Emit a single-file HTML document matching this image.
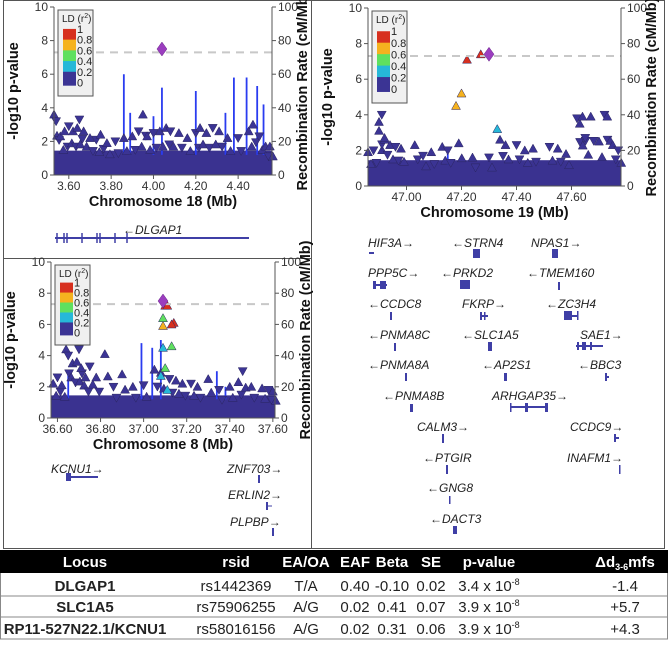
<!DOCTYPE html>
<html><head><meta charset="utf-8">
<style>
body{margin:0;background:#fff;}
svg text{font-family:"Liberation Sans",sans-serif;}
.g{font-style:italic;font-size:12px;fill:#222;}
</style></head>
<body>
<svg id="fig" width="668" height="643" viewBox="0 0 668 643" xmlns="http://www.w3.org/2000/svg">
<rect x="0" y="0" width="668" height="643" fill="#fff"/>
<g fill="none" stroke="#555" stroke-width="1">
<rect x="3.5" y="0.5" width="308" height="258"/>
<rect x="3.5" y="258.5" width="308" height="290"/>
<rect x="311.5" y="0.5" width="353" height="548"/>
</g>
<g id="plots"></g>
<g>
<text class="g" x="123" y="234">←DLGAP1</text>
<line x1="55" y1="238" x2="249" y2="238" stroke="#3f3fa6" stroke-width="2"/>
<g stroke="#3f3fa6" stroke-width="1.5"><line x1="57" y1="233" x2="57" y2="243"/><line x1="64" y1="233" x2="64" y2="243"/><line x1="67" y1="233" x2="67" y2="243"/><line x1="82" y1="233" x2="82" y2="243"/><line x1="97" y1="233" x2="97" y2="243"/><line x1="100" y1="233" x2="100" y2="243"/><line x1="115" y1="233" x2="115" y2="243"/><line x1="127" y1="233" x2="127" y2="243"/></g>
</g>
<g>
<text class="g" x="51" y="473">KCNU1→</text>
<line x1="66" y1="477" x2="98" y2="477" stroke="#3f3fa6" stroke-width="2"/>
<rect x="66" y="473" width="5" height="8" fill="#3f3fa6"/>
<text class="g" x="227" y="473">ZNF703→</text><rect x="258" y="475" width="2" height="8" fill="#3f3fa6"/>
<text class="g" x="228" y="499">ERLIN2→</text><rect x="266" y="502" width="2" height="8" fill="#3f3fa6"/><line x1="266" y1="506" x2="272" y2="506" stroke="#3f3fa6"/>
<text class="g" x="230" y="526">PLPBP→</text><rect x="272" y="528" width="2" height="8" fill="#3f3fa6"/>
</g>
<g fill="#3f3fa6">
<text class="g" x="368" y="247">HIF3A→</text><rect x="369" y="252" width="5" height="2"/>
<text class="g" x="452" y="247">←STRN4</text><rect x="473" y="249" width="7" height="9"/>
<text class="g" x="531" y="247">NPAS1→</text><rect x="552" y="249" width="6" height="9"/>
<text class="g" x="368" y="277">PPP5C→</text><rect x="373" y="281" width="3" height="8"/><rect x="374" y="284" width="13" height="2"/><rect x="380" y="281" width="6" height="8"/>
<text class="g" x="441" y="277">←PRKD2</text><rect x="460" y="280" width="10" height="9"/>
<text class="g" x="527" y="277">←TMEM160</text><rect x="558" y="282" width="2" height="8"/>
<text class="g" x="368" y="308">←CCDC8</text><rect x="390" y="312" width="2" height="8"/>
<text class="g" x="462" y="308">FKRP→</text><rect x="480" y="312" width="2" height="8"/><rect x="480" y="315" width="8" height="2"/><rect x="484" y="312" width="1.5" height="8"/>
<text class="g" x="546" y="308">←ZC3H4</text><rect x="564" y="311" width="8" height="9"/><rect x="570" y="315" width="8" height="2"/><rect x="577" y="311" width="1.5" height="9"/>
<text class="g" x="368" y="339">←PNMA8C</text><rect x="394" y="343" width="2" height="8"/>
<text class="g" x="462" y="339">←SLC1A5</text><rect x="488" y="342" width="4" height="9"/>
<text class="g" x="580" y="339">SAE1→</text><rect x="576" y="345" width="27" height="2"/><rect x="577" y="342" width="2" height="8"/><rect x="582" y="342" width="4" height="8"/><rect x="590" y="342" width="2" height="8"/>
<text class="g" x="368" y="369">←PNMA8A</text><rect x="405" y="373" width="2" height="8"/>
<text class="g" x="482" y="369">←AP2S1</text><rect x="504" y="373" width="3" height="8"/>
<text class="g" x="578" y="369">←BBC3</text><rect x="605" y="373" width="2" height="8"/><rect x="605" y="376" width="4" height="2"/>
<text class="g" x="383" y="400">←PNMA8B</text><rect x="410" y="404" width="3" height="8"/>
<text class="g" x="492" y="400">ARHGAP35→</text><rect x="510" y="406" width="38" height="2"/><rect x="510" y="403" width="1.5" height="9"/><rect x="525" y="403" width="3" height="9"/><rect x="545" y="403" width="3" height="9"/>
<text class="g" x="417" y="431">CALM3→</text><rect x="442" y="434" width="2" height="9"/>
<text class="g" x="570" y="431">CCDC9→</text><rect x="614" y="434" width="2" height="8"/><rect x="614" y="437" width="5" height="2"/>
<text class="g" x="423" y="462">←PTGIR</text><rect x="446" y="465" width="2" height="9"/>
<text class="g" x="567" y="462">INAFM1→</text><rect x="619" y="465" width="1.5" height="9"/>
<text class="g" x="427" y="492">←GNG8</text><rect x="449" y="496" width="1.5" height="8"/>
<text class="g" x="430" y="523">←DACT3</text><rect x="453" y="526" width="4" height="8"/>
</g>
<g font-family="Liberation Sans, sans-serif">
<rect x="0" y="550" width="668" height="23" fill="#000"/>
<g fill="#fff" font-size="15" font-weight="bold" text-anchor="middle">
<text x="85" y="567">Locus</text><text x="236" y="567">rsid</text><text x="306" y="567">EA/OA</text><text x="355" y="567">EAF</text><text x="392" y="567">Beta</text><text x="431" y="567">SE</text><text x="489" y="567">p-value</text>
<text x="625" y="567" font-family="Liberation Serif, serif">Δd<tspan font-size="9" dy="3">3-6</tspan><tspan dy="-3">mfs</tspan></text>
</g>
<g stroke="#888" stroke-width="1"><line x1="0" y1="596" x2="668" y2="596"/><line x1="0" y1="617" x2="668" y2="617"/><line x1="0" y1="639" x2="668" y2="639"/><line x1="0.5" y1="573" x2="0.5" y2="639"/><line x1="667.5" y1="573" x2="667.5" y2="639"/></g>
<g font-size="15" fill="#222" text-anchor="middle">
<text x="85" y="591" font-weight="bold">DLGAP1</text><text x="236" y="591">rs1442369</text><text x="306" y="591">T/A</text><text x="355" y="591">0.40</text><text x="392" y="591">-0.10</text><text x="431" y="591">0.02</text><text x="489" y="591">3.4 x 10<tspan font-size="9" dy="-6">-8</tspan></text><text x="625" y="591">-1.4</text>
<text x="85" y="612" font-weight="bold">SLC1A5</text><text x="236" y="612">rs75906255</text><text x="306" y="612">A/G</text><text x="355" y="612">0.02</text><text x="392" y="612">0.41</text><text x="431" y="612">0.07</text><text x="489" y="612">3.9 x 10<tspan font-size="9" dy="-6">-8</tspan></text><text x="625" y="612">+5.7</text>
<text x="85" y="634" font-weight="bold">RP11-527N22.1/KCNU1</text><text x="236" y="634">rs58016156</text><text x="306" y="634">A/G</text><text x="355" y="634">0.02</text><text x="392" y="634">0.31</text><text x="431" y="634">0.06</text><text x="489" y="634">3.9 x 10<tspan font-size="9" dy="-6">-8</tspan></text><text x="625" y="634">+4.3</text>
</g>
</g>
</svg>
<script>
const p1Ticks=[3.60,3.80,4.00,4.20,4.40];
const p1Pos=[3.53,3.54,3.56,3.58,3.60,3.62,3.64,3.65,3.67,3.70,3.73,3.75,3.78,3.82,3.86,3.90,3.93,3.95,3.97,4.00,4.03,4.06,4.08,4.12,4.16,4.20,4.22,4.25,4.28,4.31,4.35,4.40,4.45,4.47,4.50,4.53,4.55];
const p1P=[3.6,3.2,2.3,2.6,2.9,2.6,2.8,3.3,2.6,2.2,2.1,2.4,1.9,2.0,2.2,2.3,2.6,3.6,2.3,2.5,2.6,2.8,2.6,2.5,2.2,2.5,2.8,2.5,2.8,2.6,2.2,2.2,2.6,3.0,2.3,1.7,1.7];
const p1Lead=[4.04,7.5];
const p1RecPos=[3.86,3.89,4.00,4.04,4.20,4.34,4.38,4.44,4.49,4.52];
const p1Rec=[60,37,35,52,50,37,58,58,53,42];

const p2Ticks=[47.00,47.20,47.40,47.60];
const p2Pos=[46.86,46.88,46.90,46.90,46.91,46.92,46.94,46.96,46.98,47.03,47.06,47.09,47.13,47.15,47.19,47.24,47.30,47.34,47.36,47.40,47.43,47.46,47.52,47.55,47.58,47.62,47.63,47.64,47.65,47.67,47.70,47.72,47.73,47.75,47.77];
const p2P=[1.9,2.0,3.1,3.6,4.0,2.7,2.3,2.2,2.1,2.3,1.7,1.9,2.2,2.0,2.4,1.6,1.6,2.6,2.3,2.3,2.0,2.1,2.2,2.1,1.8,3.8,3.5,3.9,2.7,3.9,2.5,4.0,3.9,2.3,2.0];
const p2HiPos=[47.22,47.27,47.20,47.18,47.33];
const p2HiP=[7.1,7.4,5.2,4.5,3.2];
const p2HiLd=[0.9,0.9,0.7,0.7,0.3];
const p2Lead=[47.30,7.4];

const p3Ticks=[36.60,36.80,37.00,37.20,37.40,37.60];
const p3Pos=[36.58,36.60,36.62,36.64,36.65,36.67,36.69,36.70,36.71,36.73,36.75,36.78,36.82,36.86,36.90,36.95,37.00,37.05,37.08,37.12,37.15,37.18,37.22,37.25,37.30,37.35,37.40,37.44,37.46,37.50,37.55,37.58,37.60];
const p3P=[2.2,2.6,2.1,4.4,4.0,3.5,3.6,4.4,3.2,2.6,3.3,2.6,4.1,2.0,2.8,2.0,2.1,3.1,2.9,2.5,2.4,2.2,2.2,2.0,2.5,1.8,2.0,2.3,3.0,2.0,1.9,1.8,1.7];
const p3HiPos=[37.10,37.11,37.14,37.13,37.09,37.13,37.10,37.09,37.09,37.08,37.11];
const p3HiP=[7.2,7.2,6.1,6.0,6.4,4.6,3.2,5.9,4.5,2.7,1.8];
const p3HiLd=[0.9,0.9,0.9,0.9,0.5,0.5,0.5,0.7,0.3,0.3,0.3];
const p3Lead=[37.09,7.5];
const p3RecPos=[36.65,36.99,37.04,37.08,37.34,37.38];
const p3Rec=[28,48,45,50,30,20];

const NS="http://www.w3.org/2000/svg";
const root=document.getElementById('plots');
function mk(tag,attrs,parent){const e=document.createElementNS(NS,tag);for(const k in attrs)e.setAttribute(k,attrs[k]);(parent||root).appendChild(e);return e;}
function ldColor(r){if(r>=0.8)return'#d7301f';if(r>=0.6)return'#f5b21f';if(r>=0.4)return'#5fe05f';if(r>=0.2)return'#26b8d8';return'#3b3494';}

function panel(o){
  const g=mk('g',{});
  
  
  const X=v=>o.x0+(v-o.d0)/(o.d1-o.d0)*(o.x1-o.x0);
  const Y=v=>o.y0-(v/10)*(o.y0-o.y1);
  const R=v=>o.y0-(v/100)*(o.y0-o.y1);
  const cloud=mk('rect',{x:o.x0,y:Y(1.45),width:o.x1-o.x0,height:Y(0)-Y(1.45),fill:'#3a3290'},g);
  
  
  (o.recPos||[]).forEach((p,i)=>{
    const l=mk('line',{x1:X(p),x2:X(p),y1:R(12),y2:R(o.rec[i]),stroke:'#2a3cf0','stroke-width':1.8},g);
    
    
  });
  function tri(x,y,up,col,s){s=s||4.5;const d=up?`M${x},${y-s} L${x+s},${y+s*0.8} L${x-s},${y+s*0.8}Z`:`M${x},${y+s} L${x+s},${y-s*0.8} L${x-s},${y-s*0.8}Z`;return mk('path',{d:d,fill:col,stroke:'#2a2560','stroke-width':0.5},g);}
  o.pos.forEach((p,i)=>{
    const t=tri(X(p),Y(o.p[i]),i%3!==1,'#3b3494');
    
    
    const t2=tri(X(p)+3,Y(o.p[i]*0.65),i%2===0,'#3b3494');
    
    
  });
  (o.hiPos||[]).forEach((p,i)=>{
    const t=tri(X(p),Y(o.hiP[i]),true,ldColor(o.hiLd[i]));
    
    
  });
  const th=mk('line',{x1:o.x0,x2:o.x1,y1:Y(7.3),y2:Y(7.3),stroke:'#c8c8c8','stroke-width':2,'stroke-dasharray':'8,6'},g);
  
  
  const lx=X(o.lead[0]),ly=Y(o.lead[1]);
  const dm=mk('path',{d:`M${lx},${ly-7} L${lx+5},${ly} L${lx},${ly+7} L${lx-5},${ly}Z`,fill:'#9b3dbf',stroke:'#6a2a88','stroke-width':0.5},g);
  
  
  mk('line',{x1:o.x0,x2:o.x0,y1:o.y1,y2:o.y0,stroke:'#555'},g);
  mk('line',{x1:o.x1,x2:o.x1,y1:o.y1,y2:o.y0,stroke:'#555'},g);
  mk('line',{x1:o.x0,x2:o.x1,y1:o.y0,y2:o.y0,stroke:'#555'},g);
  [0,2,4,6,8,10].forEach(v=>{
    mk('line',{x1:o.x0-4,x2:o.x0,y1:Y(v),y2:Y(v),stroke:'#555'},g);
    const t=mk('text',{x:o.x0-6,y:Y(v)+4,'font-size':12,'text-anchor':'end',fill:'#333'},g);t.textContent=v;
    
    mk('line',{x1:o.x1,x2:o.x1+4,y1:Y(v),y2:Y(v),stroke:'#555'},g);
    const t2=mk('text',{x:o.x1+6,y:Y(v)+4,'font-size':12,fill:'#333'},g);t2.textContent=v*10;
    
  });
  o.ticks.forEach(v=>{
    mk('line',{x1:X(v),x2:X(v),y1:o.y0,y2:o.y0+4,stroke:'#555'},g);
    const t=mk('text',{x:X(v),y:o.y0+15,'font-size':12,'text-anchor':'middle',fill:'#333'},g);t.textContent=v.toFixed(2);
    
  });
  const xt=mk('text',{x:(o.x0+o.x1)/2,y:o.y0+31,'font-size':14.5,'font-weight':'bold','text-anchor':'middle',fill:'#111'},g);
  xt.textContent=o.xlabel;
  const yt=mk('text',{transform:`translate(${o.x0-36},${(o.y0+o.y1)/2}) rotate(-90)`,'font-size':14.5,'font-weight':'bold','text-anchor':'middle',fill:'#111'},g);
  yt.textContent='-log10 p-value';
  const yt2=mk('text',{transform:`translate(${o.x1+35},${(o.y0+o.y1)/2}) rotate(-90)`,'font-size':14.5,'font-weight':'bold','text-anchor':'middle',fill:'#111'},g);
  yt2.textContent='Recombination Rate (cM/Mb)';
  const lg=mk('g',{},g);
  
  const bx=o.x0+4,by=o.y1+3,bh=o.lh;
  mk('rect',{x:bx,y:by,width:35,height:bh,fill:'#f0f0f0',stroke:'#555'},lg);
  const lt=mk('text',{x:bx+4,y:by+12,'font-size':10,fill:'#222'},lg);lt.innerHTML='LD (r<tspan font-size="7" dy="-4">2</tspan><tspan dy="4">)</tspan>';
  const cols=['#d7301f','#f5b21f','#5fe05f','#26b8d8','#3b3494'];
  const top=by+bh*0.22, bot=by+bh*0.88, step=(bot-top)/5.3;
  cols.forEach((c,i)=>{mk('rect',{x:bx+5,y:top+i*step,width:13,height:i===4?bot-(top+4*step):step+0.5,fill:c},lg);});
  ['1','0.8','0.6','0.4','0.2','0'].forEach((s,i)=>{const t=mk('text',{x:bx+19,y:top+4+i*(bot-top-3)/5,'font-size':11,fill:'#222'},lg);t.textContent=s;});
}
panel({name:'locus-plot-chr18',x0:54,x1:272,y0:175,y1:7,lh:86,d0:3.53,d1:4.56,ticks:p1Ticks,pos:p1Pos,p:p1P,lead:p1Lead,recPos:p1RecPos,rec:p1Rec,xlabel:'Chromosome 18 (Mb)'});
panel({name:'locus-plot-chr19',x0:368,x1:621,y0:186,y1:8,lh:92,d0:46.86,d1:47.78,ticks:p2Ticks,pos:p2Pos,p:p2P,hiPos:p2HiPos,hiP:p2HiP,hiLd:p2HiLd,lead:p2Lead,recPos:[47.15],rec:[18],xlabel:'Chromosome 19 (Mb)'});
panel({name:'locus-plot-chr8',x0:51,x1:275,y0:418,y1:262,lh:80,d0:36.57,d1:37.61,ticks:p3Ticks,pos:p3Pos,p:p3P,hiPos:p3HiPos,hiP:p3HiP,hiLd:p3HiLd,lead:p3Lead,recPos:p3RecPos,rec:p3Rec,xlabel:'Chromosome 8 (Mb)'});
</script>
</body></html>
